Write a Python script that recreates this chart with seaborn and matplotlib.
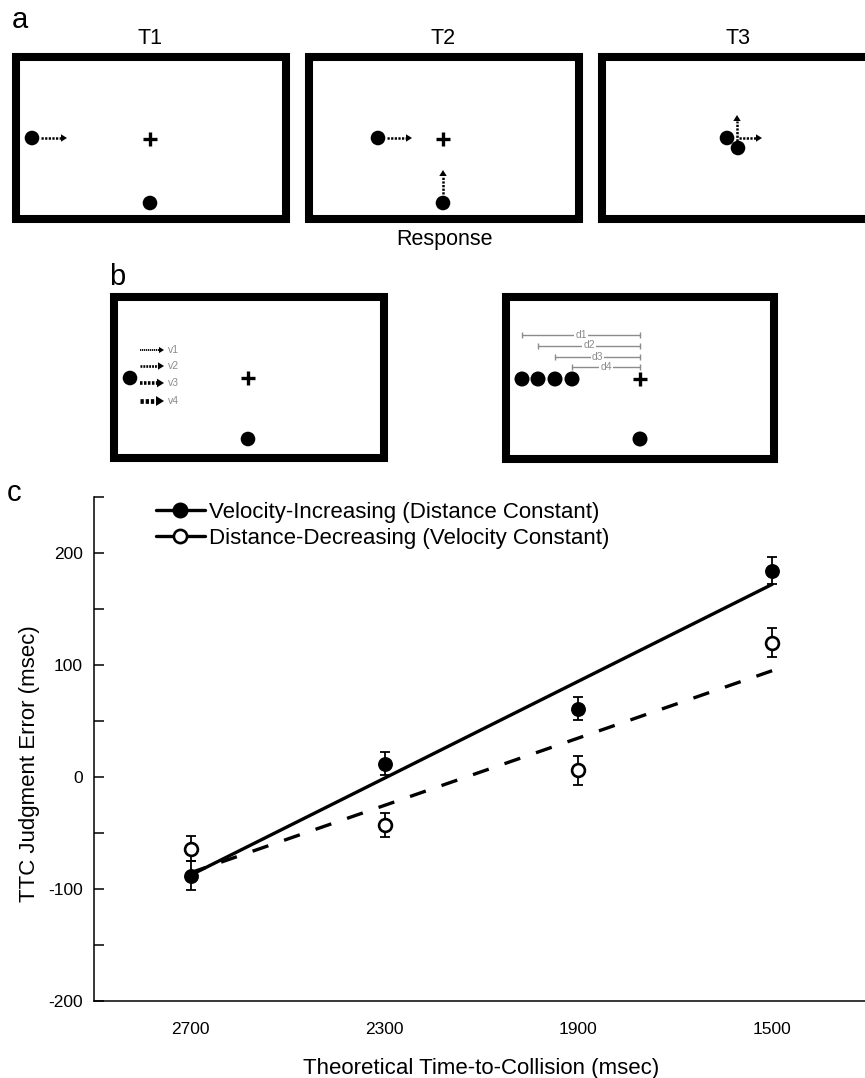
import numpy as np
import pandas as pd
import matplotlib
matplotlib.use("Agg")
import matplotlib.pyplot as plt
from matplotlib.patches import Rectangle, Circle, Polygon
from matplotlib.lines import Line2D
from matplotlib.ticker import FixedLocator, NullFormatter
import seaborn as sns

# ---------------- data (panel c) ----------------
ttc = [2700, 2300, 1900, 1500]                 # theoretical time-to-collision (msec)
vel_inc = [-88, 12, 61, 184]                   # Velocity-Increasing (Distance Constant)
vel_inc_err = [13, 10, 10, 12]
dist_dec = [-64, -43, 6, 120]                  # Distance-Decreasing (Velocity Constant)
dist_dec_err = [11, 11, 13, 13]
x_tick_labels = ["2700", "2300", "1900", "1500"]
y_major = [-200, -100, 0, 100, 200]
y_minor = [-150, -50, 50, 150, 250]
x_minor = [2500, 2100, 1700]
series_names = ["Velocity-Increasing (Distance Constant)",
                "Distance-Decreasing (Velocity Constant)"]
panel_titles = ["T1", "T2", "T3"]
v_labels = ["v1", "v2", "v3", "v4"]
d_labels = ["d1", "d2", "d3", "d4"]

sns.set_theme(style="white")
plt.rcParams["font.family"] = ["Liberation Sans", "DejaVu Sans"]
plt.rcParams["axes.unicode_minus"] = False
plt.rcParams["text.color"] = "black"
plt.rcParams["axes.labelcolor"] = "black"
plt.rcParams["xtick.color"] = "black"
plt.rcParams["ytick.color"] = "black"

W, H = 865, 1078
fig = plt.figure(figsize=(W / 100, H / 100), dpi=100)

# ---------------- schematic panels a & b (pixel canvas) ----------------
sch = fig.add_axes([0, 0, 1, 1], zorder=0)
sch.set_xlim(0, W)
sch.set_ylim(H, 0)
sch.axis("off")

BOX_LW = 5.8


def box(x0, y0, x1, y1):
    sch.add_patch(Rectangle((x0, y0), x1 - x0, y1 - y0, fill=False,
                            edgecolor="black", lw=BOX_LW, joinstyle="miter"))


def open_box(x0, y0, x1, y1):
    # box whose right side runs past the figure edge
    sch.plot([x1, x0, x0, x1], [y1, y1, y0, y0], color="black", lw=BOX_LW,
             solid_joinstyle="miter", solid_capstyle="butt", clip_on=False)


def ball(x, y, r=7.3):
    sch.add_patch(Circle((x, y), r, color="black", lw=0))


def plus(x, y, h=7, lw=2.4):
    sch.plot([x - h, x + h], [y, y], color="black", lw=lw, solid_capstyle="butt")
    sch.plot([x, x], [y - h, y + h], color="black", lw=lw, solid_capstyle="butt")


def darrow(x0, y0, x1, y1, lw=1.8, head=6.0, color="black", dash=(0.9, 0.55)):
    L = np.hypot(x1 - x0, y1 - y0)
    ux, uy = (x1 - x0) / L, (y1 - y0) / L
    bx, by = x1 - ux * head, y1 - uy * head
    sch.plot([x0, bx], [y0, by], color=color, lw=lw, linestyle=(0, dash),
             dash_capstyle="butt", solid_capstyle="butt")
    px, py = -uy, ux
    w = head * 0.62
    sch.add_patch(Polygon([(x1, y1), (bx + px * w, by + py * w), (bx - px * w, by - py * w)],
                          closed=True, color=color, lw=0))


# panel letters
sch.text(20, 20, "a", fontsize=21, ha="center", va="center")
sch.text(117, 277, "b", fontsize=21, ha="center", va="center")
sch.text(14, 493, "c", fontsize=21, ha="center", va="center")

# panel a
for t, xc in zip(panel_titles, [150, 443, 738]):
    sch.text(xc, 38, t, fontsize=15.5, ha="center", va="center")
sch.text(445, 239, "Response", fontsize=15.5, ha="center", va="center")

box(16, 57, 286, 219)
box(309, 57, 579, 219)
open_box(602, 57, 900, 219)

# T1
ball(32, 138)
darrow(41, 138, 67, 138)
plus(150, 139)
ball(150, 203)
# T2
ball(378, 138)
darrow(387, 138, 412, 138)
plus(443, 139)
ball(443, 203)
darrow(443, 194, 443, 170)
# T3
ball(727, 138)
ball(738, 148)
darrow(737, 141, 737, 115)
darrow(739, 138, 762, 138)

# panel b left
box(114, 297, 384, 458)
ball(130, 378)
plus(248, 378)
ball(248, 439)
for lab, yy, lw, hd in zip(v_labels, [350, 366, 383, 401], [1.3, 1.9, 2.6, 3.4],
                           [5.0, 6.0, 7.0, 8.0]):
    darrow(140, yy, 164, yy, lw=lw, head=hd, dash=(0.7, 0.4))
    sch.text(168, yy, lab, fontsize=7.5, color="#8c8c8c", ha="left", va="center")

# panel b right
box(506, 297, 774, 459)
for xb in [522, 538, 555, 572]:
    ball(xb, 379, r=7.5)
plus(640, 379)
ball(640, 439, r=7.5)
for lab, yy, xs in zip(d_labels, [335, 346, 357, 367], [522, 538, 555, 572]):
    sch.plot([xs, 640], [yy, yy], color="#8c8c8c", lw=1.0,
             marker="|", markersize=4, markeredgewidth=1.0, markevery=[0, 1])
    sch.text((xs + 640) / 2, yy - 0.5, lab, fontsize=7.5, color="#8c8c8c",
             ha="center", va="center",
             bbox=dict(facecolor="white", edgecolor="none", pad=0.6))

# ---------------- panel c ----------------
ax = fig.add_axes([94 / W, 1 - 1001 / H, 775 / W, 504 / H], zorder=2)
ax.patch.set_alpha(0)

df = pd.DataFrame({"ttc": ttc * 2,
                   "err": vel_inc + dist_dec,
                   "sem": vel_inc_err + dist_dec_err,
                   "cond": [series_names[0]] * 4 + [series_names[1]] * 4})

LINE_LW = 2.4
sns.regplot(data=df[df.cond == series_names[0]], x="ttc", y="err", ci=None,
            scatter=False, ax=ax, line_kws=dict(color="black", lw=LINE_LW, zorder=2))
sns.regplot(data=df[df.cond == series_names[1]], x="ttc", y="err", ci=None,
            scatter=False, ax=ax, line_kws=dict(color="black", lw=LINE_LW,
                                                 dashes=(5, 5), zorder=2))

for yv, ye in [(vel_inc, vel_inc_err), (dist_dec, dist_dec_err)]:
    ax.errorbar(ttc, yv, yerr=ye, fmt="none", ecolor="black", elinewidth=1.3,
                capsize=3.4, capthick=1.3, zorder=3)

sns.scatterplot(x=ttc, y=vel_inc, ax=ax, color="black", s=115, linewidth=0,
                zorder=4, legend=False)
sns.scatterplot(x=ttc, y=dist_dec, ax=ax, facecolor="white", edgecolor="black",
                s=85, linewidth=1.9, zorder=4, legend=False)

ax.set_xlim(2900, 1300)
ax.set_ylim(-200, 250)

sns.despine(ax=ax, top=True, right=True)
for sp in ["left", "bottom"]:
    ax.spines[sp].set_color("black")
    ax.spines[sp].set_linewidth(1.1)

ax.xaxis.set_major_locator(FixedLocator(ttc))
ax.set_xticklabels(x_tick_labels)
ax.xaxis.set_minor_locator(FixedLocator(x_minor))
ax.xaxis.set_minor_formatter(NullFormatter())
ax.tick_params(axis="x", which="major", length=0, pad=15, labelsize=12.5, colors="black")
ax.tick_params(axis="x", which="minor", direction="in", length=8, width=1.1, color="black")

ax.yaxis.set_major_locator(FixedLocator(y_major))
ax.yaxis.set_minor_locator(FixedLocator(y_minor))
ax.yaxis.set_minor_formatter(NullFormatter())
ax.tick_params(axis="y", which="both", direction="in", length=7, width=1.1,
               color="black", left=True)
ax.tick_params(axis="y", which="major", pad=8, labelsize=12.5, labelcolor="black")

ax.set_xlabel("Theoretical Time-to-Collision (msec)", fontsize=16, color="black")
ax.set_ylabel("TTC Judgment Error (msec)", fontsize=16, color="black")
ax.xaxis.set_label_coords(0.5, -0.113)
ax.yaxis.set_label_coords(-0.07, 0.47)
ax.grid(False)

handles = [
    Line2D([0], [0], color="black", lw=LINE_LW, marker="o", markersize=10.5,
           markerfacecolor="black", markeredgecolor="black"),
    Line2D([0], [0], color="black", lw=LINE_LW, marker="o", markersize=9.5,
           markerfacecolor="white", markeredgecolor="black", markeredgewidth=1.9),
]
leg = ax.legend(handles, series_names, loc="upper left", bbox_to_anchor=(0.08, 0.99),
                frameon=False, fontsize=16, handlelength=2.2, handletextpad=0.2,
                borderpad=0, borderaxespad=0, labelspacing=0.22)
for txt in leg.get_texts():
    txt.set_color("black")

fig.savefig("out.png", dpi=100)
